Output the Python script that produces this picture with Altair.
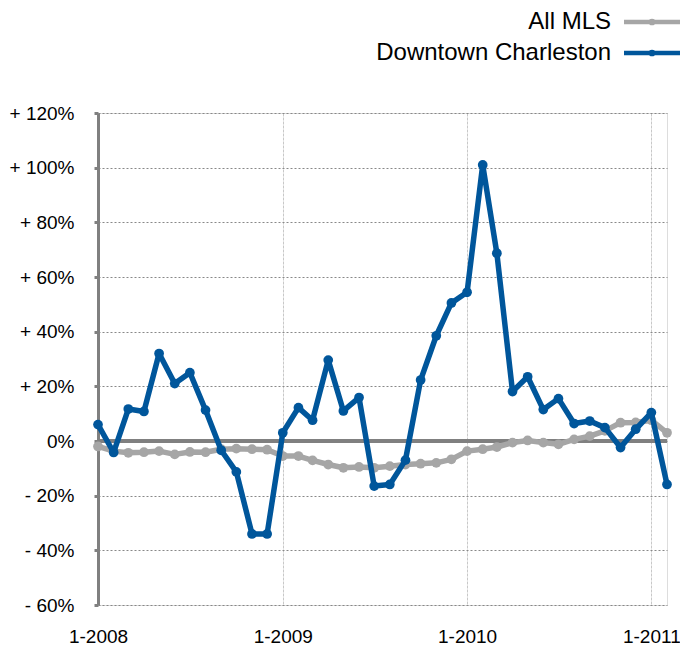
import altair as alt
import pandas as pd

# Monthly x categories: Jan 2008 .. Feb 2011
months = [f"{2008 + i // 12}-{i % 12 + 1:02d}-01T00:00:00" for i in range(38)]
year_ticks = ["2008-01-01T00:00:00", "2009-01-01T00:00:00",
              "2010-01-01T00:00:00", "2011-01-01T00:00:00"]
series_names = ["All MLS", "Downtown Charleston"]
series_colors = ["#A6A6A6", "#00569B"]

all_mls = [-2.0, -3.7, -4.3, -4.1, -3.7, -4.9, -4.0, -4.1, -3.0, -2.8, -3.0, -3.2,
           -5.5, -5.5, -7.1, -8.6, -9.8, -9.5, -9.8, -9.2, -8.6, -8.3, -8.0, -6.7,
           -3.7, -3.0, -2.2, -0.6, 0.2, -0.6, -1.2, 0.6, 1.8, 3.7, 6.7, 6.8, 7.6, 3.0]
downtown = [6.0, -4.2, 11.7, 10.8, 32.0, 21.0, 25.0, 11.3, -3.4, -11.3, -34.0, -34.0,
            3.0, 12.2, 7.6, 29.6, 11.0, 15.9, -16.5, -15.9, -7.0, 22.3, 38.5, 50.5,
            54.4, 101.0, 68.7, 18.1, 23.5, 11.5, 15.5, 6.4, 7.3, 4.9, -2.4, 4.3, 10.4, -15.9]

y_domain = [-60, 120]
y_ticks = [-60, -40, -20, 0, 20, 40, 60, 80, 100, 120]

df = pd.DataFrame({
    "month": months * 2,
    "value": all_mls + downtown,
    "series": [series_names[0]] * len(months) + [series_names[1]] * len(months),
})
legend_df = pd.DataFrame({"series": series_names, "color": series_colors})

FONT = "Liberation Sans"
AXIS_GRAY = "#808080"

x_enc = alt.X(
    "month:T",
    scale=alt.Scale(domain=[months[0], months[-1]]),
    axis=alt.Axis(
        values=year_ticks, format="%-m-%Y", title=None, ticks=False, domain=False,
        labelPadding=22, labelFontSize=19, labelFont=FONT, labelColor="#000",
        grid=True, gridColor="#C8C8C8", gridWidth=1, gridDash=[3, 1],
        labelFlush=False,
    ),
)
y_enc = alt.Y(
    "value:Q",
    scale=alt.Scale(domain=y_domain, nice=False, zero=False),
    axis=alt.Axis(
        values=y_ticks, title=None,
        labelExpr="datum.value > 0 ? '+ ' + datum.value + '%' : (datum.value < 0 ? '- ' + abs(datum.value) + '%' : '0%')",
        labelFontSize=19, labelFont=FONT, labelColor="#000", labelPadding=20,
        ticks=True, tickSize=4, tickWidth=3, tickColor=AXIS_GRAY,
        domain=True, domainColor=AXIS_GRAY, domainWidth=3,
        grid=True, gridColor="#888888", gridDash=[2, 2], gridWidth=1,
    ),
)

base = alt.Chart(df)

zero_rule = alt.Chart(pd.DataFrame({"z": [0]})).mark_rule(
    color=AXIS_GRAY, strokeWidth=4
).encode(y=alt.Y("z:Q", scale=alt.Scale(domain=y_domain)))

layers = [zero_rule]
for name, col in zip(series_names, series_colors):
    sub = base.transform_filter(alt.datum.series == name)
    layers.append(sub.mark_line(color=col, strokeWidth=5.5, strokeJoin="round").encode(x=x_enc, y=y_enc))
    layers.append(sub.mark_circle(color=col, size=95, opacity=1).encode(x=x_enc, y=y_enc))

# Manual legend (label left of symbol), positioned above the plot
legend_y = [-91, -60]
for i, (name, col) in enumerate(zip(series_names, series_colors)):
    ld = alt.Chart(legend_df).transform_filter(alt.datum.series == name)
    layers.append(ld.mark_text(align="right", baseline="middle", fontSize=24, font=FONT, color="#000").encode(
        text="series:N", x=alt.value(513), y=alt.value(legend_y[i])))
    layers.append(ld.mark_rule(color=col, strokeWidth=4.5).encode(
        x=alt.value(526), x2=alt.value(600), y=alt.value(legend_y[i])))
    layers.append(ld.mark_circle(color=col, size=45, opacity=1).encode(
        x=alt.value(554), y=alt.value(legend_y[i])))

chart = alt.layer(*layers).properties(
    width=569, height=492,
    autosize=alt.AutoSizeParams(type="none"),
    padding={"left": 98, "top": 113, "right": 13, "bottom": 41},
).configure_view(
    stroke="#888888", strokeDash=[2, 2], strokeWidth=1,
).configure(background="white")

chart.save("out.html", embed_options={"renderer": "svg", "actions": False})
